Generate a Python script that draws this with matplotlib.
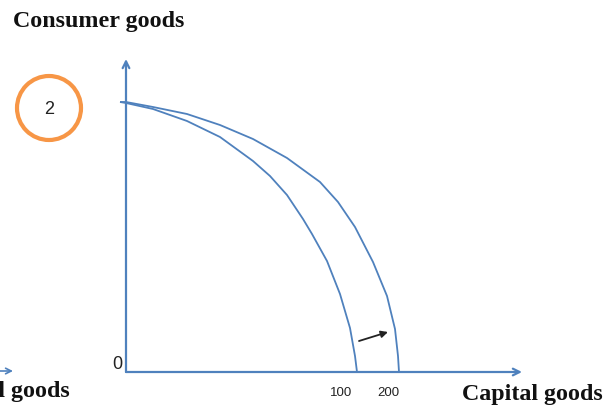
import matplotlib
matplotlib.use("Agg")
import matplotlib.pyplot as plt
from matplotlib.patches import Circle

# Production possibility frontiers (origin-based units)
ppf_inner_x = [-6, 0, 27, 61, 94, 127, 144, 161, 177, 186, 201, 214, 224, 229, 231]
ppf_inner_y = [270, 269, 263, 251, 235, 211, 196, 177, 153, 138, 111, 78, 44, 16, 0]
ppf_outer_x = [-6, 0, 27, 61, 94, 127, 161, 194, 212, 229, 247, 261, 269, 272, 273]
ppf_outer_y = [270, 270, 265, 258, 247, 233, 214, 190, 170, 145, 110, 76, 43, 16, 0]

tick_labels = ["100", "200"]
x_label = "Capital goods"
y_label = "Consumer goods"
panel_number = "2"

BLUE = "#4F81BD"
ORANGE = "#F79646"

fig = plt.figure(figsize=(6.14, 4.06), dpi=100)
ax = fig.add_axes([0, 0, 1, 1])
ax.set_xlim(-126, 488)
ax.set_ylim(-33, 373)
ax.axis("off")

# axes with arrows
ax.annotate("", xy=(0, 313), xytext=(0, 0),
            arrowprops=dict(arrowstyle="->", color=BLUE, lw=1.6,
                            shrinkA=0, shrinkB=0, mutation_scale=12))
ax.annotate("", xy=(396, 0), xytext=(0, 0),
            arrowprops=dict(arrowstyle="->", color=BLUE, lw=1.6,
                            shrinkA=0, shrinkB=0, mutation_scale=12))
# cut-off arrow at the far left
ax.annotate("", xy=(-113, 1), xytext=(-140, 1),
            arrowprops=dict(arrowstyle="->", color=BLUE, lw=1.2,
                            shrinkA=0, shrinkB=0, mutation_scale=10))

ax.plot(ppf_inner_x, ppf_inner_y, color=BLUE, lw=1.3,
        solid_capstyle="butt", solid_joinstyle="round")
ax.plot(ppf_outer_x, ppf_outer_y, color=BLUE, lw=1.3,
        solid_capstyle="butt", solid_joinstyle="round")

# shift arrow
ax.annotate("", xy=(262, 40), xytext=(233, 31),
            arrowprops=dict(arrowstyle="-|>", color="#222222", lw=1.3,
                            shrinkA=0, shrinkB=0, mutation_scale=10))

# tick labels at intercepts
ax.text(ppf_inner_x[-1] - 16, -20, tick_labels[0], ha="center", va="center",
        fontsize=9.5, family="Liberation Sans", color="#222222")
ax.text(ppf_outer_x[-1] - 11, -20, tick_labels[1], ha="center", va="center",
        fontsize=9.5, family="Liberation Sans", color="#222222")
ax.text(-9, 8, "0", ha="center", va="center", fontsize=13,
        family="Liberation Sans", color="#222222")

serif = dict(family="Liberation Serif", fontweight="bold", color="#111111")
ax.text(406, -22, x_label, ha="center", va="center", fontsize=17.3, **serif)
ax.text(-56, -19, x_label, ha="right", va="center", fontsize=17.3, **serif)
ax.text(-27, 351, y_label, ha="center", va="center", fontsize=17.3, **serif)

# numbered circle
ax.add_patch(Circle((-77, 264), 32, fill=False, edgecolor=ORANGE, lw=3))
ax.text(-77, 264, panel_number, ha="center", va="center", fontsize=13,
        family="Liberation Sans", color="#222222")

fig.savefig("out.png", dpi=100)
